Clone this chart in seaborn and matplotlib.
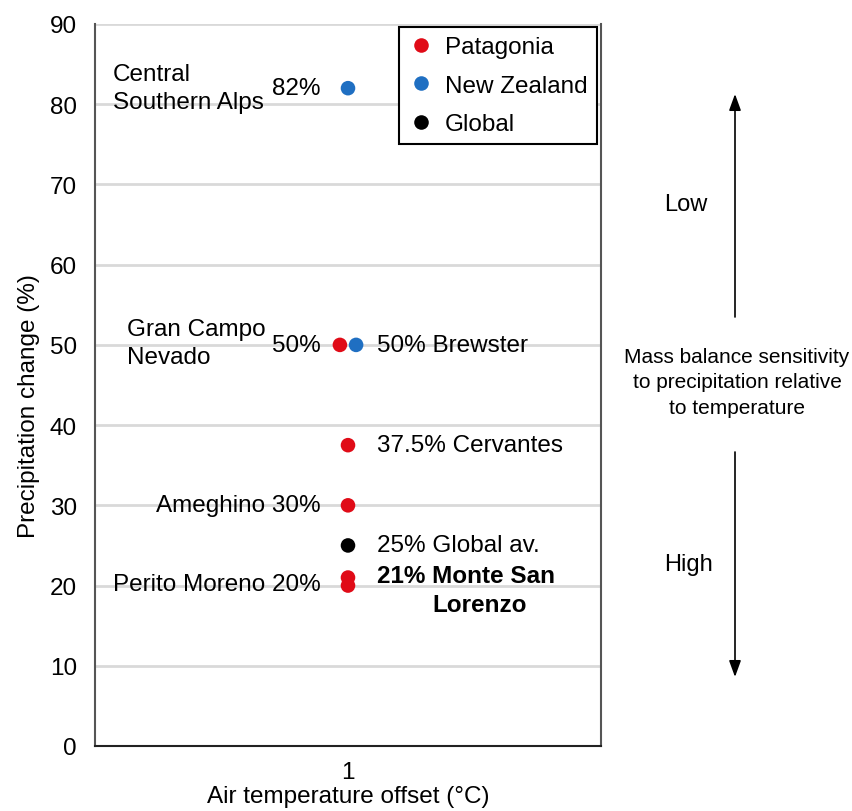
import numpy as np
import pandas as pd
import matplotlib
matplotlib.use("Agg")
import matplotlib.pyplot as plt
from matplotlib.patches import FancyArrowPatch
import seaborn as sns

# data
sites = ["Central Southern Alps", "Gran Campo Nevado", "Brewster", "Cervantes",
         "Ameghino", "Global av.", "Perito Moreno", "Monte San Lorenzo"]
region = ["New Zealand", "Patagonia", "New Zealand", "Patagonia",
          "Patagonia", "Global", "Patagonia", "Patagonia"]
temp_offset = [1.0, 0.984, 1.016, 1.0, 1.0, 1.0, 1.0, 1.0]
precip_change = [82, 50, 50, 37.5, 30, 25, 20, 21]

df = pd.DataFrame({"site": sites, "region": region,
                   "temp": temp_offset, "precip": precip_change})

sns.set_style("white")
plt.rcParams["font.family"] = ["Liberation Sans", "DejaVu Sans"]
plt.rcParams["text.color"] = "black"
plt.rcParams["axes.labelcolor"] = "black"

fig = plt.figure(figsize=(8.52, 8.12), dpi=100)
ax = fig.add_axes([95 / 852, 65 / 812, 506 / 852, 722 / 812])

palette = {"Patagonia": "#e00b17", "New Zealand": "#1f6fc2", "Global": "#000000"}
sns.scatterplot(data=df, x="temp", y="precip", hue="region",
                hue_order=["Patagonia", "New Zealand", "Global"],
                palette=palette, s=110, edgecolor="none", ax=ax, zorder=3)

fs = 17.5
ax.set_xlim(0.5, 1.5)
ax.set_ylim(0, 90)
ax.set_yticks(np.arange(0, 91, 10))
ax.set_xticks([1])
ax.tick_params(axis="both", labelsize=fs, length=0, colors="black")
ax.tick_params(axis="x", pad=11)
ax.tick_params(axis="y", pad=13)
ax.yaxis.grid(True, color="#d9d9d9", linewidth=2, zorder=0)
ax.set_axisbelow(True)
ax.spines["top"].set_visible(False)
for side in ["left", "right", "bottom"]:
    ax.spines[side].set_color("#555555")
    ax.spines[side].set_linewidth(1.5)
ax.spines["bottom"].set_color("#222222")

ax.set_xlabel("Air temperature offset (°C)", fontsize=17.5, labelpad=1)
ax.set_ylabel("Precipitation change (%)", fontsize=17.5)
ax.yaxis.set_label_coords(-0.1087, 0.472)

leg = ax.legend(loc="upper right", bbox_to_anchor=(0.992, 0.996), borderaxespad=0,
                fontsize=fs, frameon=True, fancybox=False, framealpha=1,
                edgecolor="black", handlelength=1.0, handletextpad=0.5,
                labelspacing=0.68, borderpad=0.38, markerscale=1.0)
leg.get_frame().set_linewidth(1.5)

xl = 0.9466
xr = 1.0573
ax.text(0.5356, 82, "Central\nSouthern Alps", ha="left", va="center",
        fontsize=fs, linespacing=1.35)
ax.text(xl, 82, "82%", ha="right", va="center", fontsize=fs)
ax.text(0.5632, 50.2, "Gran Campo\nNevado", ha="left", va="center",
        fontsize=fs, linespacing=1.35)
ax.text(xl, 50, "50%", ha="right", va="center", fontsize=fs)
ax.text(xr, 50, "50% Brewster", ha="left", va="center", fontsize=fs)
ax.text(xr, 37.5, "37.5% Cervantes", ha="left", va="center", fontsize=fs)
ax.text(xl, 30, "Ameghino 30%", ha="right", va="center", fontsize=fs)
ax.text(xr, 25, "25% Global av.", ha="left", va="center", fontsize=fs)
ax.text(xl, 20.2, "Perito Moreno 20%", ha="right", va="center", fontsize=fs)
ax.text(xr, 21.2, "21% Monte San", ha="left", va="center", fontsize=fs,
        fontweight="bold")
ax.text(1.166, 17.6, "Lorenzo", ha="left", va="center", fontsize=fs,
        fontweight="bold")

# sensitivity arrows on the right
ax_x = 735 / 852
arrow = dict(arrowstyle="-|>,head_length=0.55,head_width=0.2", color="black",
             lw=1.2, mutation_scale=18, shrinkA=0, shrinkB=0)
fig.add_artist(FancyArrowPatch((ax_x, 1 - 318 / 812), (ax_x, 1 - 95 / 812),
                               transform=fig.transFigure, **arrow))
fig.add_artist(FancyArrowPatch((ax_x, 1 - 453 / 812), (ax_x, 1 - 678 / 812),
                               transform=fig.transFigure, **arrow))
fig.text(686 / 852, 1 - 205 / 812, "Low", ha="center", va="center", fontsize=17)
fig.text(689 / 852, 1 - 565 / 812, "High", ha="center", va="center", fontsize=17)
fig.text(737 / 852, 1 - 383 / 812,
         "Mass balance sensitivity\nto precipitation relative\nto temperature",
         ha="center", va="center", fontsize=15, linespacing=1.45)

fig.savefig("out.png", dpi=100)
